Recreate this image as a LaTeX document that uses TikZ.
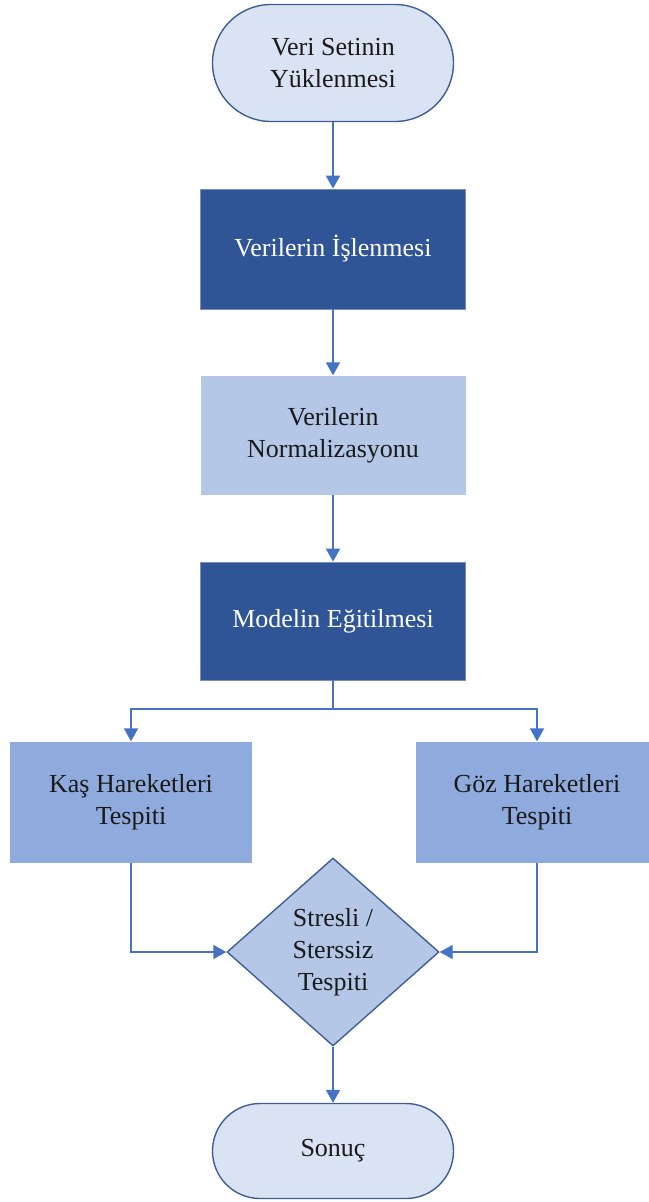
\documentclass[tikz,border=0pt]{standalone}
\usepackage{fontspec}
\setmainfont{Liberation Serif}
\usetikzlibrary{shapes.geometric,shapes.misc,arrows.meta}
\definecolor{darkbox}{HTML}{2F5597}
\definecolor{lightbox}{HTML}{B4C7E7}
\definecolor{midbox}{HTML}{8FAADC}
\definecolor{termfill}{HTML}{DAE3F3}
\definecolor{edgeblue}{HTML}{3F5F93}
\definecolor{arrowblue}{HTML}{4472C4}
\definecolor{txt}{HTML}{1A1A1A}
\tikzset{
  x=1pt, y=-1pt,
  every node/.style={font=\fontsize{26}{32}\selectfont, align=center, inner sep=0pt, text=txt},
  term/.style={rounded rectangle, draw=edgeblue, line width=1.4pt, fill=termfill, minimum width=241pt},
  darkproc/.style={rectangle, draw=edgeblue!70!white, line width=0.8pt, fill=darkbox, text=white, minimum width=265pt, minimum height=120pt},
  lightproc/.style={rectangle, fill=lightbox, minimum width=265pt, minimum height=119pt},
  sideproc/.style={rectangle, fill=midbox, minimum width=242pt, minimum height=121pt},
  decision/.style={diamond, draw=edgeblue, line width=1.4pt, fill=lightbox, minimum width=212pt, minimum height=188pt, aspect=1.13},
  arr/.style={draw=arrowblue, line width=1.9pt, -{Triangle[width=14pt,length=13pt]}},
  ln/.style={draw=arrowblue, line width=1.9pt}
}
\begin{document}
\begin{tikzpicture}
\useasboundingbox (0,0) rectangle (648,1202);
\node[term, minimum height=117pt] (start) at (333,63) {Veri Setinin\\Yüklenmesi};
\node[darkproc] (p1) at (333,249) {Verilerin İşlenmesi};
\node[lightproc] (p2) at (333,435) {Verilerin\\Normalizasyonu};
\node[darkproc, minimum height=118pt] (p3) at (333,621) {Modelin Eğitilmesi};
\node[sideproc] (k) at (131,802) {Kaş Hareketleri\\Tespiti};
\node[sideproc] (g) at (537,802) {Göz Hareketleri\\Tespiti};
\node[decision] (d) at (333,952) {Stresli /\\Sterssiz\\Tespiti};
\node[term, minimum height=95pt] (end) at (333,1151) {Sonuç};
\coordinate (split) at (333,709);
\draw[arr] (start.south) -- (p1.north);
\draw[arr] (p1.south) -- (p2.north);
\draw[arr] (p2.south) -- (p3.north);
\draw[ln] (p3.south) -- (split);
\draw[arr] (split) -| (k.north);
\draw[arr] (split) -| (g.north);
\draw[arr] (k.south) |- (d.west);
\draw[arr] (g.south) |- (d.east);
\draw[arr] (d.south) -- (end.north);
\end{tikzpicture}
\end{document}
